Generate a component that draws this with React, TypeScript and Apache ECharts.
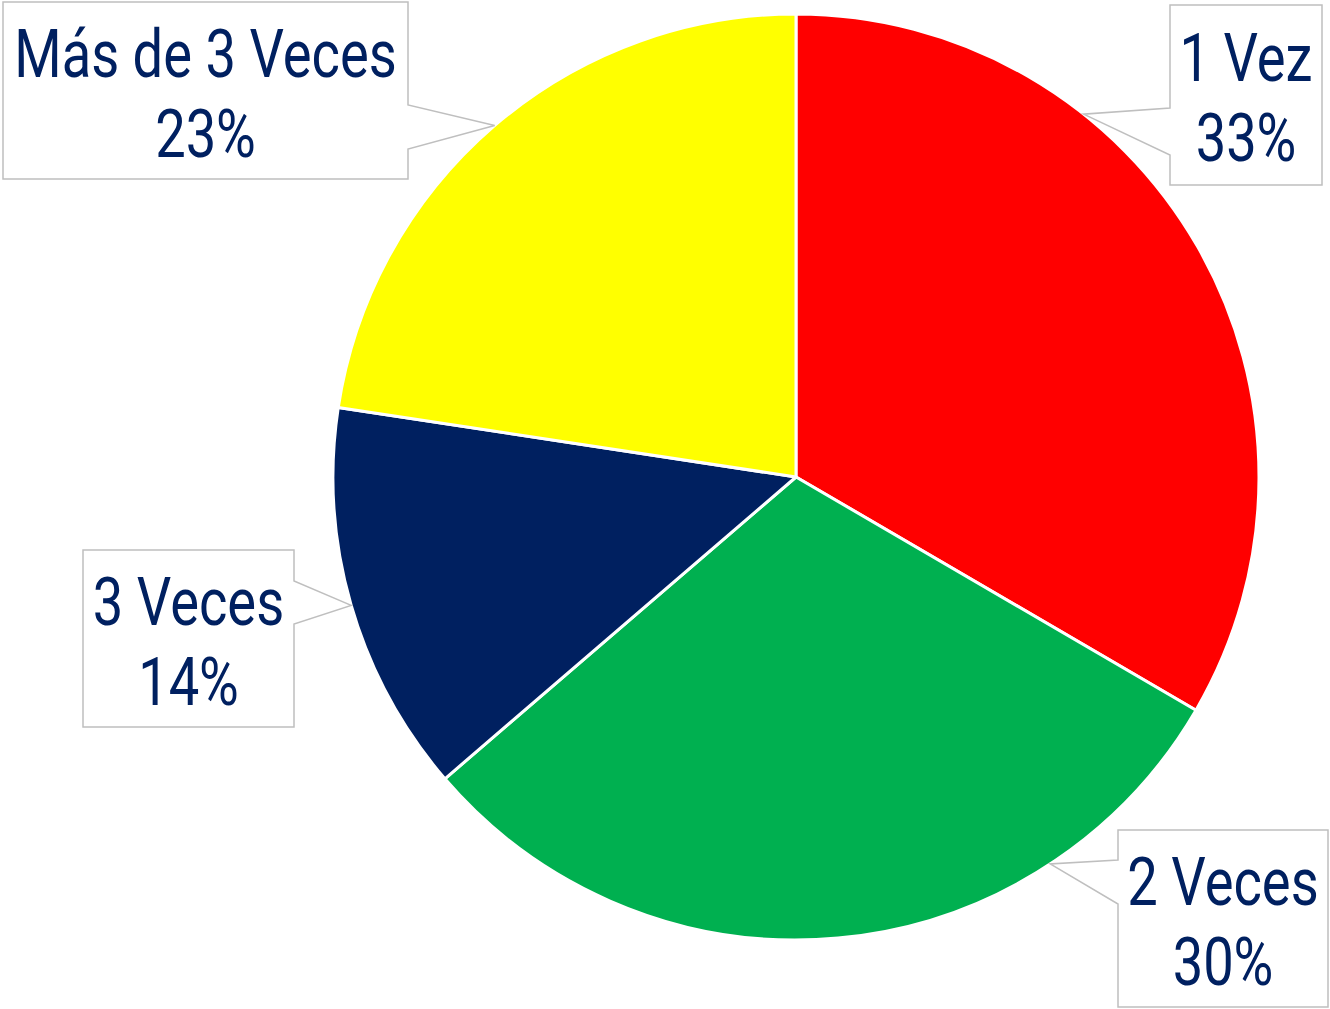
import React, { useEffect, useRef } from "react";
import * as echarts from "echarts";

const categories = ["1 Vez", "2 Veces", "3 Veces", "Más de 3 Veces"];
const values = [33.4, 30.3, 13.7, 22.6];
const colors = ["#FF0000", "#00B050", "#002060", "#FFFF00"];

// ---- layout constants (callout boxes) ----
const CENTER: [number, number] = [796, 477];
const RADIUS = 463;
// [x, y, w, h]
const boxes: [number, number, number, number][] = [
  [1170, 5, 152, 180],
  [1118, 830, 210, 177],
  [83, 550, 211, 177],
  [3, 2, 405, 177],
];
const pointerSide = ["left", "left", "right", "right"];
const wedgeBase: [number, number][] = [
  [108, 155],
  [860, 904],
  [581, 624],
  [105, 149],
];
const pointerAngle = [38.4, 146.7, 253.9, 319.4]; // degrees clockwise from 12 o'clock

function calloutPoints(i: number): number[][] {
  const [x, y, w, h] = boxes[i];
  const [y1, y2] = wedgeBase[i];
  const a = (pointerAngle[i] * Math.PI) / 180;
  const ax = CENTER[0] + RADIUS * Math.sin(a);
  const ay = CENTER[1] - RADIUS * Math.cos(a);
  if (pointerSide[i] === "left") {
    return [
      [x, y],
      [x + w, y],
      [x + w, y + h],
      [x, y + h],
      [x, y2],
      [ax, ay],
      [x, y1],
    ];
  }
  return [
    [x, y],
    [x + w, y],
    [x + w, y1],
    [ax, ay],
    [x + w, y2],
    [x + w, y + h],
    [x, y + h],
  ];
}

export default function App() {
  const ref = useRef<HTMLDivElement>(null);
  useEffect(() => {
    if (!ref.current) return;
    const chart = echarts.init(ref.current, null, { renderer: "svg" });
    const total = values.reduce((s, v) => s + v, 0);
    const graphics: any[] = [];
    categories.forEach((c, i) => {
      const [x, y, w, h] = boxes[i];
      graphics.push({
        type: "polygon",
        z: 100,
        shape: { points: calloutPoints(i) },
        style: { fill: "#ffffff", stroke: "#BFBFBF", lineWidth: 1.5 },
      });
      graphics.push({
        type: "text",
        z: 101,
        x: x + w / 2,
        y: y + h / 2 + 3,
        scaleX: 0.81,
        style: {
          text: `${c}\n${Math.round((values[i] / total) * 100)}%`,
          font: "67px Roboto",
          lineHeight: 80,
          fill: "#002060",
          align: "center",
          verticalAlign: "middle",
        },
      });
    });
    chart.setOption({
      animation: false,
      backgroundColor: "#ffffff",
      series: [
        {
          type: "pie",
          center: CENTER,
          radius: RADIUS,
          startAngle: 90,
          clockwise: true,
          data: categories.map((c, i) => ({
            name: c,
            value: values[i],
            itemStyle: { color: colors[i] },
          })),
          itemStyle: { borderColor: "#ffffff", borderWidth: 3 },
          label: { show: false },
          labelLine: { show: false },
        },
      ],
      graphic: graphics,
    });
    return () => chart.dispose();
  }, []);
  return (
    <div
      ref={ref}
      style={{ position: "fixed", left: 0, top: 0, width: 1330, height: 1009 }}
    />
  );
}
